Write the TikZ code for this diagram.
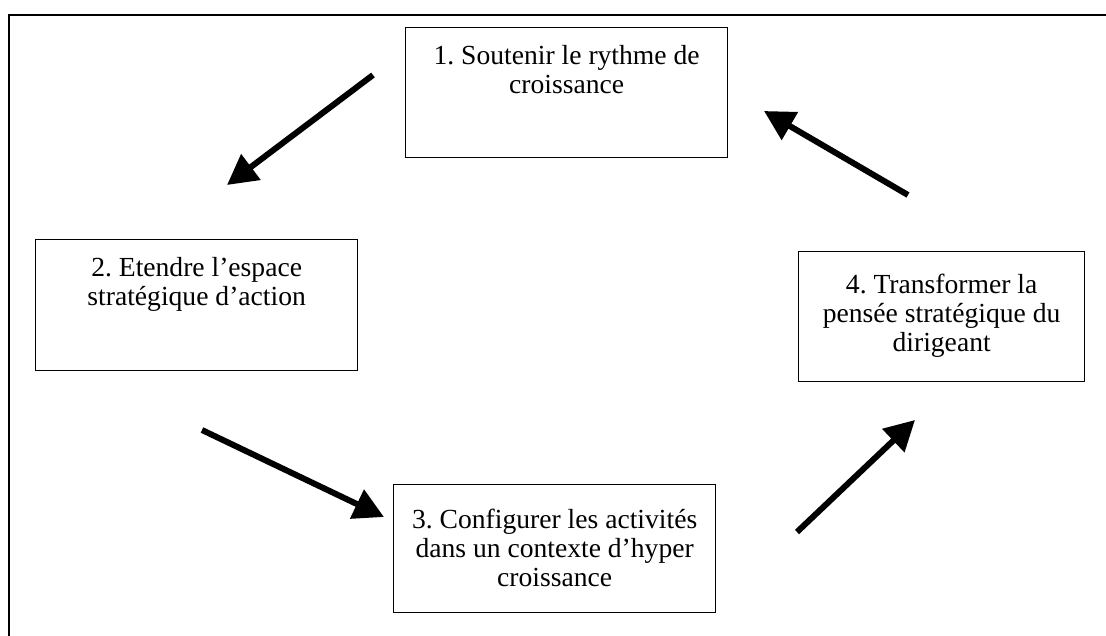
\documentclass[tikz,border=0pt]{standalone}
\usepackage{fontspec}
\setmainfont{Liberation Serif}
\usetikzlibrary{arrows.meta}
\frenchspacing
\newcommand{\etapetexte}[4][18pt]{\parbox[c][#3][t]{#2}{\centering\vspace*{#1}#4}}
\begin{document}
\begin{tikzpicture}[x=1pt, y=-1pt,
    etape/.style={draw, line width=1.3pt, inner sep=0pt, anchor=north west,
      font=\fontsize{27.6}{29}\selectfont},
    fleche/.style={line width=6pt, -{Triangle[length=30pt, width=31pt]}}]
  \useasboundingbox (0,0) rectangle (1106,635);
  \draw [line width=2pt] (9,640) -- (9,15) -- (1110,15);
  \node [etape] (e1) at (405,27) {\etapetexte{322pt}{130pt}{1. Soutenir le rythme de\\ croissance}};
  \node [etape] (e2) at (35,239) {\etapetexte{322pt}{131pt}{2. Etendre l’espace\\ stratégique d’action}};
  \node [etape] (e3) at (393,484) {\etapetexte[24pt]{322pt}{128pt}{3. Configurer les activités\\ dans un contexte d’hyper\\ croissance}};
  \node [etape] (e4) at (798,251) {\etapetexte[22pt]{286pt}{130pt}{4. Transformer la\\ pensée stratégique du\\ dirigeant}};
  \coordinate (a1) at (373,75);
  \coordinate (b1) at (227,185);
  \coordinate (a2) at (202,430);
  \coordinate (b2) at (384,517);
  \coordinate (a3) at (797,532);
  \coordinate (b3) at (915,420);
  \coordinate (a4) at (908,195);
  \coordinate (b4) at (764,111);
  \draw [fleche] (a1) -- (b1);
  \draw [fleche] (a2) -- (b2);
  \draw [fleche] (a3) -- (b3);
  \draw [fleche] (a4) -- (b4);
\end{tikzpicture}
\end{document}
